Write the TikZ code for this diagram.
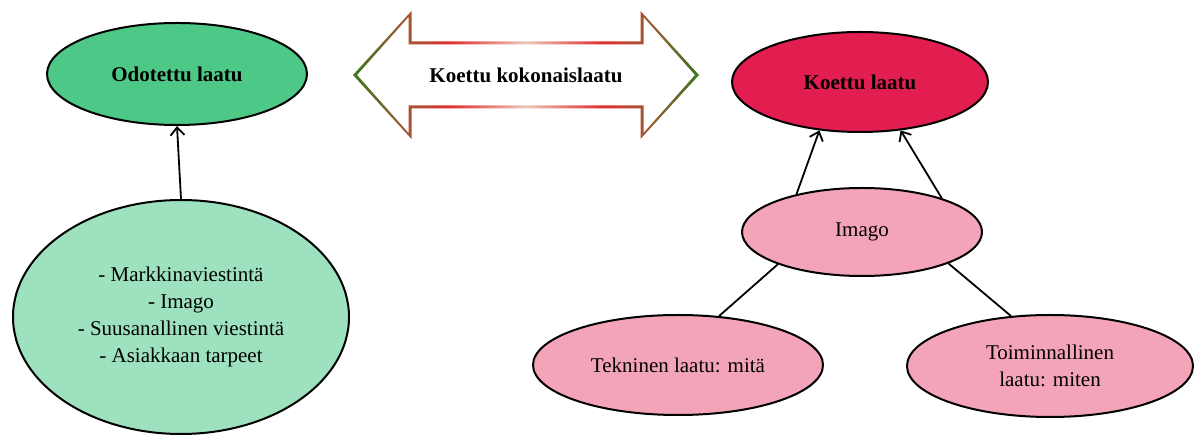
\documentclass[tikz,border=0pt]{standalone}
\usepackage{fontspec}
\setmainfont{Liberation Serif}
\usetikzlibrary{shapes.geometric,arrows.meta}

\definecolor{odogreen}{RGB}{78,200,134}
\definecolor{mintgreen}{RGB}{157,225,190}
\definecolor{koettured}{RGB}{226,30,80}
\definecolor{laatupink}{RGB}{244,164,184}
\definecolor{kgreen}{RGB}{60,120,30}
\definecolor{kbrown}{RGB}{165,85,50}
\definecolor{kred}{RGB}{225,45,45}
\definecolor{kpale}{RGB}{235,200,185}

\pgfdeclarehorizontalshading{kokoline}{100bp}{color(0bp)=(kgreen); color(25bp)=(kgreen); color(33bp)=(kbrown); color(39bp)=(kred); color(50bp)=(kpale); color(61bp)=(kred); color(67bp)=(kbrown); color(75bp)=(kgreen); color(100bp)=(kgreen)}

\tikzset{
  laatu/.style={ellipse, draw, line width=1pt, inner sep=0pt, align=center, font=\fontsize{10.5}{13.5}\selectfont},
  otsikko/.style={laatu, font=\fontsize{10.5}{13.5}\selectfont\bfseries},
  nuoli/.style={line width=0.9pt, -{Straight Barb[length=4pt,width=7pt]}},
  viiva/.style={line width=0.9pt}
}

\begin{document}
\begin{tikzpicture}[x=0.5pt,y=-0.5pt]
\useasboundingbox (0,0) rectangle (1203,437);

%left side
\node[otsikko, fill=odogreen, minimum width=130pt, minimum height=51pt] (odo) at (177,74) {Odotettu laatu};
\node[laatu, fill=mintgreen, minimum width=168pt, minimum height=117pt] (tekijat) at (181,317)
  {- Markkinaviestintä\\- Imago\\- Suusanallinen viestintä\\- Asiakkaan tarpeet};
\draw[nuoli] (tekijat.north) -- (odo.south);

%draw double arrow
\shade[shading=kokoline, even odd rule]
  (353,75) -- (411.5,11) -- (411.5,41.5) -- (640.5,41.5) -- (640.5,11) -- (699,75)
  -- (640.5,139) -- (640.5,108.5) -- (411.5,108.5) -- (411.5,139) -- cycle
  (357,75) -- (408.5,17) -- (408.5,44.5) -- (643.5,44.5) -- (643.5,17) -- (695,75)
  -- (643.5,133) -- (643.5,105.5) -- (408.5,105.5) -- (408.5,133) -- cycle;
\node[font=\fontsize{10.5}{13.5}\selectfont\bfseries] (koko) at (526,75) {Koettu kokonaislaatu};

%right side
\node[otsikko, fill=koettured, minimum width=128pt, minimum height=50pt] (koettu) at (860,82) {Koettu laatu};
\node[laatu, fill=laatupink, minimum width=120pt, minimum height=44pt] (imago) at (862,232) {Imago};
\node[laatu, fill=laatupink, minimum width=145pt, minimum height=50pt] (tekn) at (678,365) {Tekninen laatu: mitä};
\node[laatu, fill=laatupink, minimum width=143pt, minimum height=51pt] (toim) at (1050,366) {Toiminnallinen\\laatu: miten};

\draw[nuoli] (imago.150) -- (koettu.230);
\draw[nuoli] (imago.23) -- (koettu.310);
\draw[viiva] (imago.201) -- (tekn.50);
\draw[viiva] (imago.340) -- (toim.128);
\end{tikzpicture}
\end{document}
